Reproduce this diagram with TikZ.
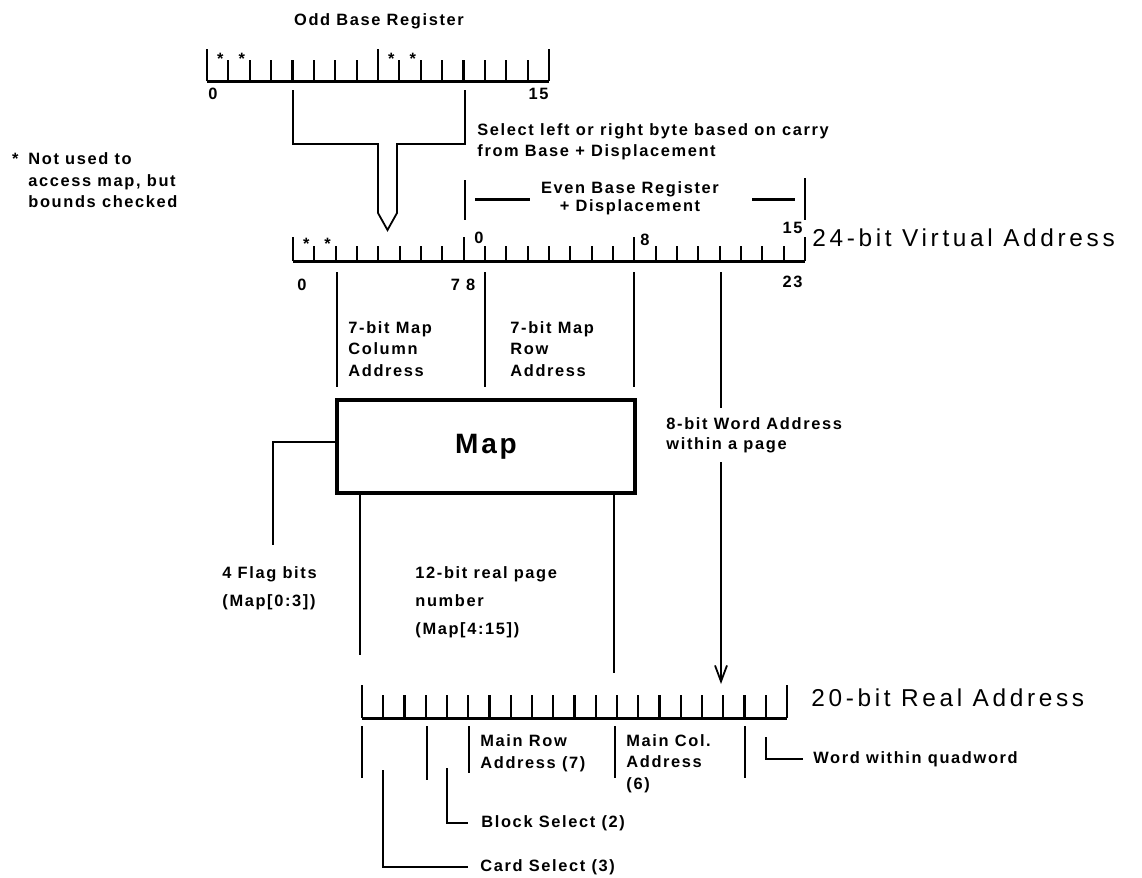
\documentclass[tikz,border=0pt]{standalone}
\usepackage{fontspec}
\usepackage{tikz}
\usetikzlibrary{arrows.meta,positioning,calc}
\newfontfamily\lblfont{Liberation Sans}[LetterSpace=10]
\newfontfamily\bigfont{Liberation Sans}[LetterSpace=15]

\begin{document}
\begin{tikzpicture}[
    x=0.5pt, y=-0.5pt,
    lbl/.style={font=\lblfont\bfseries\fontsize{8.2}{10.6}\selectfont, inner sep=0, align=left, anchor=north west},
    big/.style={font=\bigfont\fontsize{12.2}{14}\selectfont, inner sep=0, anchor=west},
    star/.style={font=\lblfont\bfseries\fontsize{8.2}{8}\selectfont, inner sep=0},
    base/.style={line width=1.5pt},
    tk/.style={line width=1.1pt},
    wire/.style={line width=0.9pt},
    arr/.style={wire, -{Straight Barb[length=8pt, width=6pt]}}
]
\useasboundingbox (0,0) rectangle (1142,878);

% odd base register
\node[lbl, anchor=center] (oddT) at (379,21) {Odd Base Register};
\coordinate (oddL) at (207,81);
\coordinate (oddR) at (549,81);
\draw[base] (oddL) -- (oddR);
\foreach \i in {1,...,15} \draw[tk] (207+\i*21.375,81) -- ++(0,-21);
\foreach \i in {0,8,16} \draw[tk] (207+\i*21.375,81) -- ++(0,-32);
\foreach \i in {1,2,9,10} \node[star] (oa\i) at (207+\i*21.375-8,58.5) {*};
\node[lbl, anchor=west] (o0) at (208,94) {0};
\node[lbl, anchor=east] (o15) at (549,94) {15};

% byte select
\coordinate (selL) at (293,90);
\coordinate (selR) at (465,90);
\coordinate (tip) at (387.5,230);
\draw[wire] (selL) |- (378,144) -- (378,213) -- (tip) -- (397,213) -- (397,144) -| (selR);
\node[lbl] (sel) at (477,123.5) {Select left or right byte based on carry\\from Base + Displacement};
\node[lbl] (note) at (28,152.5) {\llap{*\hspace{5pt}}Not used to\\[0.2pt]access map, but\\[0.2pt]bounds checked};

% even base register
\draw[wire] (465,180) -- (465,220);
\draw[wire] (805,178) -- (805,220);
\draw[base] (475,199) -- (530,199);
\draw[base] (752,199) -- (795,199);
\node[lbl, align=center, anchor=north, font=\lblfont\bfseries\fontsize{8.2}{9}\selectfont] (even) at (630,181.5) {Even Base Register\\+ Displacement};

% 24-bit virtual address
\coordinate (virtL) at (293,261);
\coordinate (virtR) at (805,261);
\draw[base] (virtL) -- (virtR);
\foreach \i in {1,...,23} \draw[tk] (293+\i*21.333,261) -- ++(0,-15);
\foreach \i in {0,8,16,24} \draw[tk] (293+\i*21.333,261) -- ++(0,-24);
\foreach \i in {1,2} \node[star] (va\i) at (293+\i*21.333-8,244) {*};
\node[lbl, anchor=west] (v0t) at (474,238) {0};
\node[lbl, anchor=west] (v8t) at (640,240) {8};
\node[lbl, anchor=east] (v15t) at (803,228) {15};
\node[lbl, anchor=west] (v0) at (297,285) {0};
\node[lbl, anchor=center] (v78) at (463,285) {7 8};
\node[lbl, anchor=east] (v23) at (803,282) {23};
\node[big] (virt) at (812,238) {24-bit Virtual Address};

% fields
\foreach \x in {336.7,485,634} \draw[wire] (\x,272) -- (\x,387);
\node[lbl] (col) at (348,321.5) {7-bit Map\\Column\\Address};
\node[lbl] (row) at (510,321.5) {7-bit Map\\Row\\Address};

% map
\node[draw, line width=1.6pt, minimum width=149pt, minimum height=46.5pt, inner sep=0,
      font=\lblfont\bfseries\fontsize{14}{16}\selectfont] (map) at (486,446.5) {Map};
\coordinate (flag) at (273,545);
\draw[wire] ([yshift=2.25pt]map.west) -| (flag);
\coordinate (pg1) at (360,655);
\coordinate (pg2) at (614,673);
\draw[wire] (pg1 |- map.south) -- (pg1);
\draw[wire] (pg2 |- map.south) -- (pg2);
\node[lbl, font=\lblfont\bfseries\fontsize{8.2}{14}\selectfont] (flg) at (222,566.5) {4 Flag bits\\(Map[0:3])};
\node[lbl, font=\lblfont\bfseries\fontsize{8.2}{14}\selectfont] (pg) at (415,566.5) {12-bit real page\\number\\(Map[4:15])};

% word address
\coordinate (wA) at (721,272);
\coordinate (wB) at (721,408);
\coordinate (wC) at (721,462);
\coordinate (wD) at (721,684);
\draw[wire] (wA) -- (wB);
\draw[arr] (wC) -- (wD);
\node[lbl, font=\lblfont\bfseries\fontsize{8.2}{10}\selectfont] (wrd) at (666,417.5) {8-bit Word Address\\within a page};

% 20-bit real address
\coordinate (realL) at (362,718);
\coordinate (realR) at (787,718);
\draw[base] (realL) -- (realR);
\foreach \i in {1,...,19} \draw[tk] (362+\i*21.25,718) -- ++(0,-23);
\foreach \i in {0,20} \draw[tk] (362+\i*21.25,718) -- ++(0,-33);
\node[big] (real) at (811,698) {20-bit Real Address};

% real address fields
\foreach \x/\e in {362/778, 427/780, 469/773, 615/778, 745/778} \draw[wire] (\x,726) -- (\x,\e);
\node[lbl, font=\lblfont\bfseries\fontsize{8.2}{11}\selectfont] (mrow) at (480,734.5) {Main Row\\Address (7)};
\node[lbl] (mcol) at (626,734.5) {Main Col.\\Address\\(6)};
\node[lbl, anchor=west] (card) at (480,867) {Card Select (3)};
\node[lbl, anchor=west] (blk) at (481,823) {Block Select (2)};
\node[lbl, anchor=west] (word) at (813,759) {Word within quadword};
\coordinate (cardS) at (383,770);
\coordinate (blkS) at (447,768);
\coordinate (wordS) at (766,737);
\draw[wire] (cardS) |- ([xshift=-6pt]card.west);
\draw[wire] (blkS) |- ([xshift=-6.5pt]blk.west);
\draw[wire] (wordS) |- ([xshift=-5pt]word.west);
\end{tikzpicture}
\end{document}
